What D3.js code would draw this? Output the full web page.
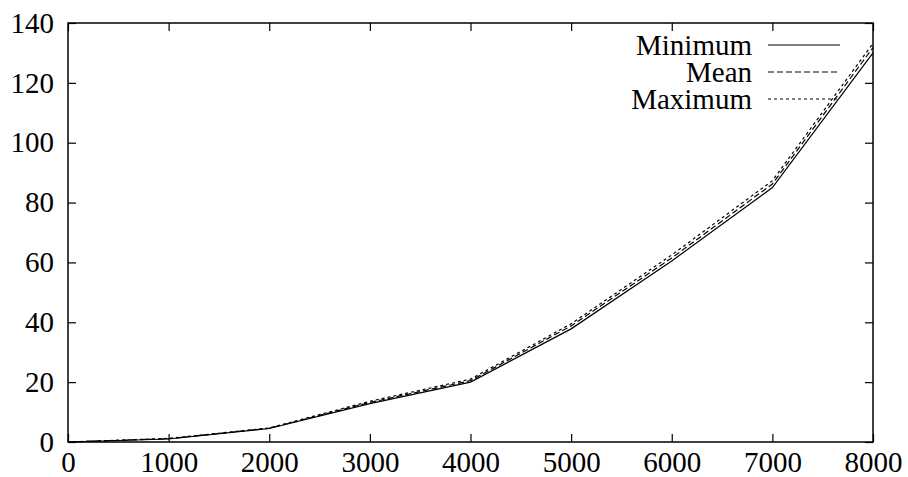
<!DOCTYPE html>
<html>
<head>
<meta charset="utf-8">
<script src="https://cdn.jsdelivr.net/npm/d3@7"></script>
<style>
  body { margin: 0; background: #fff; overflow: hidden; }
  svg { display: block; }
  text { font-family: "Liberation Serif", "DejaVu Serif", serif; font-size: 29px; fill: #000; }
</style>
</head>
<body>
<script>
// data
var sizes   = [0, 1000, 2000, 3000, 4000, 5000, 6000, 7000, 8000];
var minimum = [0, 1.0, 4.5, 12.8, 20.0, 37.8, 60.5, 85.0, 130.0];
var mean    = [0, 1.1, 4.6, 13.2, 20.5, 38.8, 61.5, 86.2, 131.8];
var maximum = [0, 1.2, 4.7, 13.6, 21.0, 39.5, 62.5, 87.3, 133.2];
var xTicks = [0, 1000, 2000, 3000, 4000, 5000, 6000, 7000, 8000];
var yTicks = [0, 20, 40, 60, 80, 100, 120, 140];

(function() {
  var series = [
    { name: "Minimum", values: minimum, dash: null },
    { name: "Mean", values: mean, dash: "6,3" },
    { name: "Maximum", values: maximum, dash: "3,3" }
  ];

  var W = 908, H = 477;
  var pLeft = 68, pRight = 873, pTop = 23, pBottom = 442;

  var svg = d3.select("body").append("svg")
    .attr("width", W)
    .attr("height", H);

  var x = d3.scaleLinear().domain([0, 8000]).range([pLeft, pRight]);
  var y = d3.scaleLinear().domain([0, 140]).range([pBottom, pTop]);

  // inward ticks on all four sides
  function styleAxis(g) {
    g.select(".domain").remove();
    g.selectAll(".tick line").attr("stroke", "#000").attr("stroke-width", 1.2);
    g.attr("font-family", null).attr("font-size", null);
  }

  svg.append("g")
    .attr("transform", "translate(0," + pBottom + ")")
    .call(d3.axisBottom(x).tickValues(xTicks).tickSizeInner(-8).tickSizeOuter(0).tickPadding(9).tickFormat(d3.format("d")))
    .call(styleAxis);

  svg.append("g")
    .attr("transform", "translate(0," + pTop + ")")
    .call(d3.axisTop(x).tickValues(xTicks).tickSizeInner(-8).tickSizeOuter(0).tickFormat(""))
    .call(styleAxis);

  svg.append("g")
    .attr("transform", "translate(" + pLeft + ",0)")
    .call(d3.axisLeft(y).tickValues(yTicks).tickSizeInner(-8).tickSizeOuter(0).tickPadding(14))
    .call(styleAxis);

  svg.append("g")
    .attr("transform", "translate(" + pRight + ",0)")
    .call(d3.axisRight(y).tickValues(yTicks).tickSizeInner(-8).tickSizeOuter(0).tickFormat(""))
    .call(styleAxis);

  svg.selectAll(".tick text").attr("fill", "#000");

  // lines
  var line = d3.line()
    .x(function(d, i) { return x(sizes[i]); })
    .y(function(d) { return y(d); });

  svg.selectAll("path.series")
    .data(series)
    .join("path")
    .attr("class", "series")
    .attr("d", function(d) { return line(d.values); })
    .attr("fill", "none")
    .attr("stroke", "#000")
    .attr("stroke-width", 1.2)
    .attr("stroke-dasharray", function(d) { return d.dash; });

  // frame
  svg.append("rect")
    .attr("x", pLeft).attr("y", pTop)
    .attr("width", pRight - pLeft).attr("height", pBottom - pTop)
    .attr("fill", "none")
    .attr("stroke", "#000")
    .attr("stroke-width", 1.5);

  // legend
  var legend = svg.selectAll("g.legend")
    .data(series)
    .join("g")
    .attr("class", "legend")
    .attr("transform", function(d, i) { return "translate(0," + (45 + i * 27) + ")"; });

  legend.append("text")
    .attr("x", 752)
    .attr("dy", "0.35em")
    .attr("text-anchor", "end")
    .text(function(d) { return d.name; });

  legend.append("line")
    .attr("x1", 768).attr("x2", 840)
    .attr("stroke", "#000")
    .attr("stroke-width", 1.2)
    .attr("stroke-dasharray", function(d) { return d.dash; });
})();
</script>
</body>
</html>
